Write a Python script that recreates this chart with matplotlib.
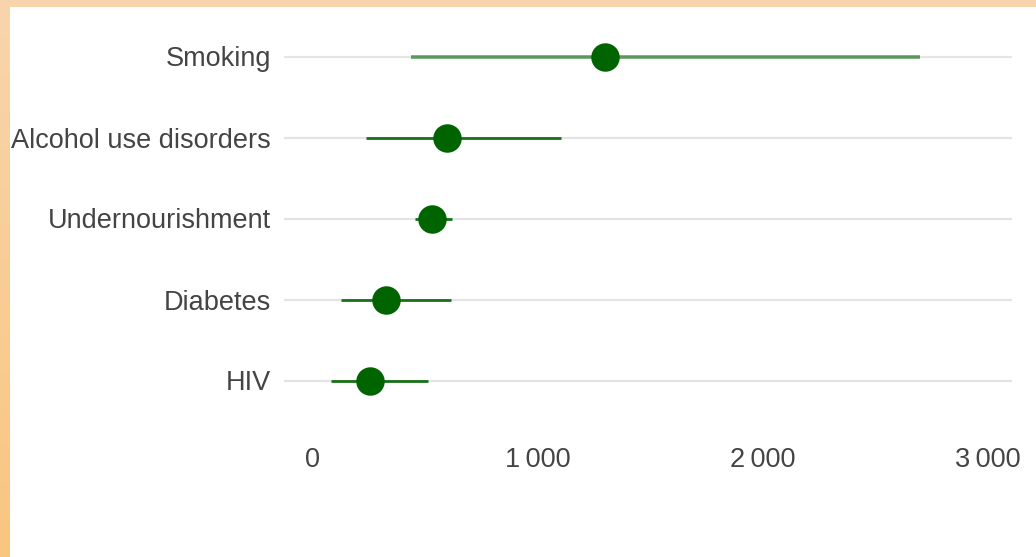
import matplotlib.pyplot as plt
import numpy as np
from matplotlib.patches import Rectangle

# data
categories = ['Smoking', 'Alcohol use disorders', 'Undernourishment', 'Diabetes', 'HIV']
values = [1300, 598, 531, 327, 256]
lower = [438, 238, 456, 127, 82]
upper = [2700, 1104, 620, 616, 514]
xticks = [0, 1000, 2000, 3000]
xtick_labels = ['0', '1\u2009000', '2\u2009000', '3\u2009000']

plt.rcParams['font.family'] = ['Liberation Sans', 'DejaVu Sans']

W, H = 1036, 557
fig = plt.figure(figsize=(W / 100, H / 100), dpi=100)
fig.patch.set_facecolor('white')

# peach frame on top and left
bg = fig.add_axes([0, 0, 10 / W, 1])
grad = np.linspace(0, 1, 256).reshape(-1, 1)
c_top = np.array([0xF7, 0xD5, 0xAC]) / 255
c_bot = np.array([0xF9, 0xC6, 0x80]) / 255
img = c_top[None, None, :] * (1 - grad[:, :, None]) + c_bot[None, None, :] * grad[:, :, None]
bg.imshow(img, aspect='auto', extent=[0, 1, 0, 1], origin='upper')
bg.axis('off')
fig.patches.append(Rectangle((0, 1 - 7 / H), 1, 7 / H, transform=fig.transFigure,
                             facecolor='#F7D4AB', edgecolor='none', zorder=5))

ax = fig.add_axes([284 / W, 1 - 421 / H, (1012 - 284) / W, (421 - 16) / H])
y = np.arange(len(categories))

for yi in y:
    ax.axhline(yi, color='#e4e4e4', lw=1.6, zorder=1)

for i, (lo, hi, v) in enumerate(zip(lower, upper, values)):
    if i == 0:
        ax.plot([lo, hi], [i, i], color='#006400', alpha=0.6, lw=2.6, solid_capstyle='butt', zorder=2)
    else:
        ax.plot([lo, hi], [i, i], color='#006400', alpha=0.9, lw=2.0, solid_capstyle='butt', zorder=2)
ax.plot(values, y, 'o', color='#006400', markersize=20.5, markeredgewidth=0, zorder=3)

ax.set_xlim(-126.7, 3108.9)
ax.set_ylim(len(categories) - 0.5, -0.5)
ax.set_yticks(y)
ax.set_yticklabels(categories)
ax.set_xticks(xticks)
ax.set_xticklabels(xtick_labels)
ax.tick_params(axis='y', length=0, pad=9.5, labelsize=19.5, labelcolor='#444444')
ax.tick_params(axis='x', length=0, pad=19, labelsize=19.5, labelcolor='#444444')
for s in ax.spines.values():
    s.set_visible(False)
ax.set_facecolor('none')

fig.savefig('out.png', dpi=100)
